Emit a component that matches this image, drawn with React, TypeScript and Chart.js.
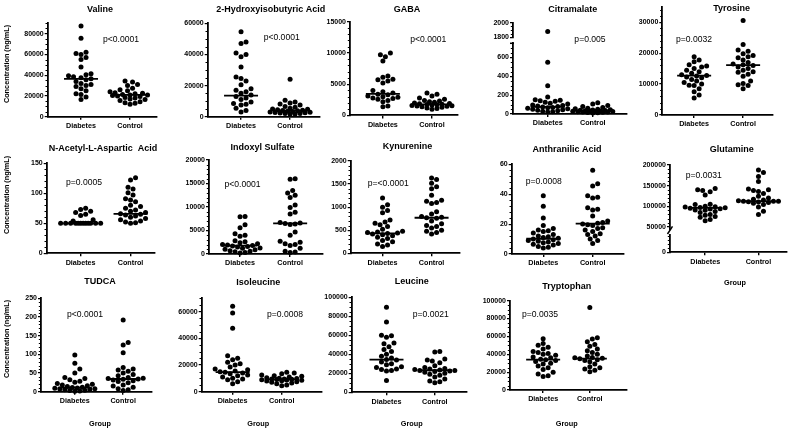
import React, { useEffect, useRef } from 'react';
import { Chart, registerables } from 'chart.js';

Chart.register(...registerables);

const FONT = '"Liberation Sans", Arial, Helvetica, sans-serif';
const categories = ['Diabetes', 'Control'];
const groupLabel = 'Group';
const yAxisLabel = 'Concentration (ng/mL)';

// ---------- data ----------
const valineDiabetes = [87500, 75500, 62000, 61000, 60000, 57000, 55000, 48000, 41500, 40500, 39500, 38500, 37500, 36500, 35500, 34000, 32000, 31000, 30000, 29000, 27000, 25000, 22000, 21500, 19000, 16500];
const valineControl = [34500, 33500, 31000, 30000, 27500, 26000, 25000, 24000, 23000, 22500, 22000, 21500, 21000, 21000, 20500, 20000, 19500, 18500, 18000, 17000, 16500, 15500, 14500, 13500, 13000, 12000];
const valineMedian = [36500, 21000];
const valineTicks = [0, 20000, 40000, 60000, 80000];

const hibaDiabetes = [54500, 48000, 47000, 41000, 40000, 38500, 32000, 25500, 24500, 23000, 20500, 18000, 17000, 16000, 15000, 14000, 13000, 12000, 11000, 9500, 8500, 8000, 7500, 5500, 4000, 3000];
const hibaControl = [24000, 10500, 9500, 8800, 8200, 7500, 6500, 6000, 5500, 5000, 4800, 4500, 4200, 4000, 3800, 3500, 3300, 3000, 2900, 2700, 2500, 2300, 2100, 2000, 1800, 1500];
const hibaMedian = [13500, 3900];
const hibaTicks = [0, 20000, 40000, 60000];

const gabaDiabetes = [10000, 9700, 9400, 8700, 6300, 6100, 5800, 5700, 5500, 5200, 4000, 3800, 3600, 3400, 3300, 3100, 3000, 2900, 2800, 2700, 2600, 2400, 2200, 1500, 1400];
const gabaControl = [3600, 3400, 3100, 2800, 2600, 2400, 2300, 2200, 2100, 2000, 1900, 1850, 1800, 1750, 1700, 1650, 1600, 1550, 1500, 1450, 1400, 1300, 1200, 1100, 1000];
const gabaMedian = [3450, 1770];
const gabaTicks = [0, 5000, 10000, 15000];

const citraDiabetes = [1880, 550, 300, 180, 150, 145, 140, 135, 125, 115, 105, 95, 90, 85, 80, 75, 70, 65, 60, 55, 50, 45, 40, 35, 30, 25, 20];
const citraControl = [120, 105, 90, 80, 70, 60, 55, 50, 45, 42, 40, 38, 35, 33, 32, 30, 28, 26, 24, 22, 20, 18, 15, 12, 10];
const citraMedian = [75, 33];
const citraTicksHigh = [1800, 2000];
const citraTicksLow = [0, 200, 400, 600];

const tyrDiabetes = [18800, 17800, 17200, 16200, 15800, 15500, 15000, 14500, 14000, 13500, 13000, 12800, 12600, 12300, 12000, 11500, 11000, 10500, 10000, 9600, 9500, 8500, 7500, 6500, 5500];
const tyrControl = [30500, 22800, 21000, 20600, 19800, 19200, 18800, 18500, 17800, 17000, 16500, 16200, 16000, 15500, 15000, 14500, 14000, 13800, 13200, 12500, 11000, 10200, 9800, 9500, 8500];
const tyrMedian = [12700, 16100];
const tyrTicks = [0, 10000, 20000, 30000];

const naaDiabetes = [75, 73, 70, 68, 65, 63, 56, 54, 50, 50, 50, 50, 50, 50, 50, 50, 50, 50, 50, 50];
const naaControl = [126, 122, 110, 107, 101, 97, 91, 89, 86, 80, 78, 75, 72, 70, 68, 66, 65, 64, 62, 60, 58, 56, 54, 52, 51, 50];
const naaMedian = [50, 65.6];
const naaTicks = [0, 50, 100, 150];

const indDiabetes = [8000, 7900, 6200, 5600, 4300, 4000, 3800, 2800, 2600, 2400, 2200, 2000, 1900, 1800, 1700, 1600, 1500, 1300, 1200, 1000, 900, 700, 600, 500, 300, 200];
const indControl = [16000, 15900, 13500, 13000, 12500, 12000, 10400, 9900, 8900, 8500, 6700, 6600, 6500, 6400, 6300, 4700, 4000, 2700, 2500, 2200, 2000, 1800, 1200, 600, 400, 300];
const indMedian = [1800, 6500];
const indTicks = [0, 5000, 10000, 15000, 20000];

const kynDiabetes = [1200, 1050, 1000, 930, 880, 720, 680, 650, 620, 580, 520, 480, 460, 450, 440, 430, 420, 400, 380, 350, 320, 280, 250, 200, 180, 150];
const kynControl = [1630, 1600, 1520, 1440, 1400, 1260, 1150, 1130, 1100, 1080, 900, 850, 800, 780, 770, 760, 700, 640, 600, 580, 550, 500, 480, 450, 420];
const kynMedian = [430, 770];
const kynTicks = [0, 500, 1000, 1500, 2000];

const anthDiabetes = [39, 32, 24, 19, 17, 16, 15.5, 15, 14, 13, 12, 11.5, 11, 10.5, 10, 9.5, 9, 8.5, 8, 7.5, 7, 6.5, 6, 5, 4.5, 4];
const anthControl = [56, 47, 45.5, 39, 38, 37.5, 31, 30, 29.5, 25.5, 22, 21, 20.5, 20, 19.5, 19, 17.5, 17, 16, 15, 13.5, 13, 12, 10, 9, 7];
const anthMedian = [10.2, 20.3];
const anthTicks = [0, 20, 40, 60];

const glnDiabetes = [143000, 140000, 138000, 135000, 127000, 105000, 104000, 100000, 99000, 98000, 97000, 96000, 95000, 94000, 93000, 91000, 90000, 87000, 85000, 80000, 78000, 75000, 73000, 68000, 65000];
const glnControl = [188000, 182000, 172000, 160000, 142000, 140000, 138000, 136000, 131000, 124000, 120000, 117000, 115000, 113000, 112000, 112000, 112000, 111000, 110000, 109000, 107000, 104000, 98000, 88000, 80000];
const glnMedian = [96000, 112000];
const glnTicksHigh = [50000, 100000, 150000, 200000];
const glnTicksLow = [0];

const tudcaDiabetes = [98, 76, 61, 50, 38, 35, 32, 28, 25, 22, 20, 18, 16, 14, 12, 11, 10, 9, 8, 7, 6, 5, 4, 3, 2, 1.5];
const tudcaControl = [192, 132, 125, 104, 65, 61, 58, 55, 50, 46, 43, 38, 36, 35, 34, 33, 31, 29, 27, 24, 18, 15, 12, 8, 5, 3];
const tudcaMedian = [11, 34];
const tudcaTicks = [0, 50, 100, 150, 200, 250];

const ileDiabetes = [64000, 59000, 47500, 27000, 25000, 24000, 22000, 21000, 20000, 18500, 17000, 16500, 15500, 15000, 14500, 14000, 13500, 12500, 12000, 11000, 10000, 9500, 9000, 7500, 6000];
const ileControl = [14500, 14000, 13500, 12500, 12000, 11500, 11000, 10500, 10000, 9800, 9600, 9500, 9400, 9200, 9000, 8800, 8500, 8200, 8000, 7500, 7000, 6500, 6000, 5000, 4500];
const ileMedian = [14700, 9300];
const ileTicks = [0, 20000, 40000, 60000];

const leuDiabetes = [89500, 74000, 60000, 59500, 58000, 52000, 51000, 48000, 45000, 43000, 40000, 38000, 36000, 34500, 34000, 32000, 30000, 29000, 27000, 26000, 24500, 24000, 23000, 22500, 12500];
const leuControl = [43000, 42500, 35000, 34000, 33000, 31000, 28000, 26000, 25000, 24500, 24000, 23500, 23000, 23000, 22500, 22000, 21000, 20000, 19000, 18000, 16000, 14000, 12000, 11000, 10000];
const leuMedian = [34400, 23200];
const leuTicks = [0, 20000, 40000, 60000, 80000, 100000];

const trpDiabetes = [57500, 52000, 50000, 48000, 46000, 43000, 42000, 41000, 40000, 39000, 37000, 36000, 34500, 34000, 33000, 32000, 30000, 29000, 27000, 25000, 23000, 20000, 18000, 16000, 15000];
const trpControl = [92500, 58500, 57000, 54000, 51000, 49000, 46000, 44000, 42000, 40000, 38000, 36500, 36000, 35500, 35000, 34000, 33000, 31500, 29000, 26000, 25000, 23500, 22000, 20500];
const trpMedian = [34000, 35200];
const trpTicks = [0, 20000, 40000, 60000, 80000, 100000];

// ---------- layout (page pixels) ----------
type Seg = { gap?: boolean; min?: number; max?: number; ticks?: number[]; minor?: number; h?: number };
type Panel = {
  title: string; pText: string; diabetes: number[]; control: number[]; median: number[];
  segs: Seg[]; box: [number, number, number, number]; xr: [number, number];
  titlePos: [number, number]; pPos: [number, number]; yTitleY?: number; groupPos?: [number, number]; brk?: 'flat' | 'slash';
};

const panels: Panel[] = [
  { title: 'Valine', pText: 'p<0.0001', diabetes: valineDiabetes, control: valineControl, median: valineMedian,
    segs: [{ min: 0, max: 90000, ticks: valineTicks, minor: 5000 }], box: [47.7, 23.3, 157, 116.7], xr: [0.32, 2.55],
    titlePos: [100, 9.5], pPos: [121, 40], yTitleY: 64 },
  { title: '2-Hydroxyisobutyric Acid', pText: 'p<0.0001', diabetes: hibaDiabetes, control: hibaControl, median: hibaMedian,
    segs: [{ min: 0, max: 60000, ticks: hibaTicks, minor: 5000 }], box: [207.7, 23.3, 320, 116.7], xr: [0.32, 2.61],
    titlePos: [270.8, 9.5], pPos: [281.7, 38] },
  { title: 'GABA', pText: 'p<0.0001', diabetes: gabaDiabetes, control: gabaControl, median: gabaMedian,
    segs: [{ min: 0, max: 15000, ticks: gabaTicks, minor: 1000 }], box: [350, 21.7, 458, 115.4], xr: [0.33, 2.53],
    titlePos: [407, 9.5], pPos: [428.3, 40] },
  { title: 'Citramalate', pText: 'p=0.005', diabetes: citraDiabetes, control: citraControl, median: citraMedian,
    segs: [{ min: 1800, max: 2000, ticks: citraTicksHigh, minor: 50, h: 14.6 }, { gap: true, h: 6 }, { min: 0, max: 750, ticks: citraTicksLow, minor: 50, h: 70.7 }],
    box: [513, 22.7, 627, 114], xr: [0.23, 2.76], titlePos: [572.7, 9.5], pPos: [590, 40], brk: 'flat' },
  { title: 'Tyrosine', pText: 'p=0.0032', diabetes: tyrDiabetes, control: tyrControl, median: tyrMedian,
    segs: [{ min: 0, max: 35000, ticks: tyrTicks, minor: 2000 }], box: [662.3, 6.7, 773, 115], xr: [0.35, 2.61],
    titlePos: [731.7, 9], pPos: [694, 40] },
  { title: 'N-Acetyl-L-Aspartic  Acid', pText: 'p=0.0005', diabetes: naaDiabetes, control: naaControl, median: naaMedian,
    segs: [{ min: 0, max: 150, ticks: naaTicks, minor: 10 }], box: [46.7, 163.3, 155, 253.3], xr: [0.32, 2.49],
    titlePos: [103, 148.3], pPos: [84, 182.7], yTitleY: 195 },
  { title: 'Indoxyl Sulfate', pText: 'p<0.0001', diabetes: indDiabetes, control: indControl, median: indMedian,
    segs: [{ min: 0, max: 20000, ticks: indTicks, minor: 1000 }], box: [209, 160, 322.7, 254], xr: [0.38, 2.65],
    titlePos: [262.5, 147.3], pPos: [242.5, 184.3] },
  { title: 'Kynurenine', pText: 'p=<0.0001', diabetes: kynDiabetes, control: kynControl, median: kynMedian,
    segs: [{ min: 0, max: 2000, ticks: kynTicks, minor: 100 }], box: [350.7, 161, 460, 253.3], xr: [0.35, 2.58],
    titlePos: [407.5, 146.7], pPos: [388.3, 183.3] },
  { title: 'Anthranilic Acid', pText: 'p=0.0008', diabetes: anthDiabetes, control: anthControl, median: anthMedian,
    segs: [{ min: 0, max: 60, ticks: anthTicks, minor: 4 }], box: [511.7, 164.3, 623.3, 254], xr: [0.36, 2.62],
    titlePos: [567, 149.3], pPos: [543.8, 181.7] },
  { title: 'Glutamine', pText: 'p=0.0031', diabetes: glnDiabetes, control: glnControl, median: glnMedian,
    segs: [{ min: 44000, max: 200000, ticks: glnTicksHigh, minor: 10000, h: 64.3 }, { gap: true, h: 5.7 }, { min: 0, max: 42000, ticks: glnTicksLow, minor: 10000, h: 17.3 }],
    box: [670, 165, 786.7, 252.3], xr: [0.34, 2.53], titlePos: [731.7, 149.3], pPos: [703.8, 175.7], groupPos: [735, 282.7], brk: 'slash' },
  { title: 'TUDCA', pText: 'p<0.0001', diabetes: tudcaDiabetes, control: tudcaControl, median: tudcaMedian,
    segs: [{ min: 0, max: 250, ticks: tudcaTicks, minor: 10 }], box: [41, 298.3, 151.7, 391.7], xr: [0.30, 2.59],
    titlePos: [100, 282], pPos: [85, 315], yTitleY: 339, groupPos: [100, 424] },
  { title: 'Isoleucine', pText: 'p=0.0008', diabetes: ileDiabetes, control: ileControl, median: ileMedian,
    segs: [{ min: 0, max: 70000, ticks: ileTicks, minor: 5000 }], box: [201.7, 298.3, 322, 391.7], xr: [0.37, 2.82],
    titlePos: [258.3, 282.7], pPos: [285, 315], groupPos: [258.3, 424] },
  { title: 'Leucine', pText: 'p=0.0021', diabetes: leuDiabetes, control: leuControl, median: leuMedian,
    segs: [{ min: 0, max: 100000, ticks: leuTicks, minor: 5000 }], box: [351.7, 297.3, 466.7, 392.3], xr: [0.28, 2.66],
    titlePos: [411.7, 282], pPos: [430.8, 315], groupPos: [411.7, 424] },
  { title: 'Tryptophan', pText: 'p=0.0035', diabetes: trpDiabetes, control: trpControl, median: trpMedian,
    segs: [{ min: 0, max: 100000, ticks: trpTicks, minor: 5000 }], box: [510, 300.7, 626.7, 390], xr: [0.29, 2.79],
    titlePos: [566.7, 287], pPos: [540, 315], groupPos: [566.7, 424] },
];

const W = 795, H = 430;
const Y_W = 40, X_H = 20;
const POINT_R = 2.5, DIAM = 5, SWARM_CAP = 21, MEDIAN_HALF_PX = 17;

function segHeights(p: Panel): number[] {
  if (p.segs.length === 1) return [p.box[3] - p.box[1]];
  return p.segs.map((s) => s.h as number);
}

// returns [segIndex, pixelY]
function locate(p: Panel, v: number): [number, number] {
  const hs = segHeights(p);
  let bottom = p.box[3];
  for (let i = p.segs.length - 1; i >= 0; i--) {
    const s = p.segs[i];
    const top = bottom - hs[i];
    if (!s.gap && v >= (s.min as number) && v <= (s.max as number)) {
      return [i, bottom - ((v - (s.min as number)) / ((s.max as number) - (s.min as number))) * hs[i]];
    }
    bottom = top;
  }
  return [p.segs.length - 1, p.box[3]];
}

// capped beeswarm: pixel offsets, overlapping when space runs out
function swarm(ys: number[], d: number, cap: number): number[] {
  const idx = ys.map((_, i) => i).sort((a, b) => ys[b] - ys[a]);
  const placed: { x: number; y: number }[] = [];
  const out = new Array(ys.length).fill(0);
  const step = d / 2;
  for (const i of idx) {
    const y = ys[i];
    let chosen: number | null = null;
    let best = 0, bestScore = -1;
    for (let k = 0; k < 200; k++) {
      const m = Math.ceil(k / 2) * (k % 2 === 1 ? 1 : -1);
      const x = m * step;
      if (Math.abs(x) > cap) break;
      let minD = Infinity;
      for (const q of placed) minD = Math.min(minD, Math.hypot(q.x - x, q.y - y));
      if (minD >= d * 0.98) { chosen = x; break; }
      if (minD > bestScore + 0.3) { bestScore = minD; best = x; }
    }
    const x = chosen === null ? best : chosen;
    out[i] = x;
    placed.push({ x, y });
  }
  return out;
}

function makeOverlay(p: Panel) {
  return {
    id: 'overlay',
    afterDraw(chart: any) {
      const ctx = chart.ctx as CanvasRenderingContext2D;
      ctx.save();
      ctx.fillStyle = '#000';
      ctx.strokeStyle = '#000';
      ctx.lineWidth = 1;
      p.segs.forEach((s, i) => {
        if (s.gap) return;
        const sc = chart.scales['y' + i];
        const x = sc.right;
        const k0 = Math.ceil((s.min as number) / (s.minor as number));
        const k1 = Math.floor((s.max as number) / (s.minor as number));
        for (let k = k0; k <= k1; k++) {
          const v = k * (s.minor as number);
          if ((s.ticks as number[]).some((t) => Math.abs(t - v) < 1e-6)) continue;
          const y = Math.round(sc.getPixelForValue(v)) + 0.5;
          ctx.beginPath();
          ctx.moveTo(x - 2.2, y);
          ctx.lineTo(x, y);
          ctx.stroke();
        }
      });
      p.segs.forEach((s, i) => {
        if (!s.gap) return;
        const sc = chart.scales['y' + i];
        const x = sc.right;
        ctx.lineWidth = 1.5;
        ctx.beginPath();
        if (p.brk === 'flat') {
          ctx.moveTo(x - 3, sc.bottom);
          ctx.lineTo(x + 1, sc.bottom);
        } else {
          ctx.moveTo(x - 2.5, sc.bottom - 1);
          ctx.lineTo(x + 2.5, sc.top - 3);
        }
        ctx.stroke();
      });
      ctx.textAlign = 'center';
      ctx.textBaseline = 'middle';
      ctx.font = `bold 9px ${FONT}`;
      ctx.fillText(p.title, p.titlePos[0], p.titlePos[1]);
      ctx.font = `8.6px ${FONT}`;
      ctx.fillText(p.pText, p.pPos[0], p.pPos[1]);
      ctx.font = `bold 7.3px ${FONT}`;
      if (p.yTitleY !== undefined) {
        ctx.save();
        ctx.translate(6.7, p.yTitleY);
        ctx.rotate(-Math.PI / 2);
        ctx.fillText(yAxisLabel, 0, 0);
        ctx.restore();
      }
      if (p.groupPos) ctx.fillText(groupLabel, p.groupPos[0], p.groupPos[1]);
      ctx.restore();
    },
  };
}

function buildConfig(p: Panel): any {
  const [L, T, R, B] = p.box;
  const u = (R - L) / (p.xr[1] - p.xr[0]);
  const hs = segHeights(p);
  const datasets: any[] = [];
  [p.diabetes, p.control].forEach((vals, g) => {
    const loc = vals.map((v) => locate(p, v));
    const offs = swarm(loc.map((l) => l[1]), DIAM, SWARM_CAP);
    const bySeg: Record<number, any[]> = {};
    vals.forEach((v, i) => {
      const si = loc[i][0];
      (bySeg[si] = bySeg[si] || []).push({ x: g + 1 + offs[i] / u, y: v });
    });
    Object.keys(bySeg).forEach((k) => {
      datasets.push({
        data: bySeg[+k], yAxisID: 'y' + k, pointRadius: POINT_R, pointHoverRadius: POINT_R,
        backgroundColor: '#000', borderWidth: 0, showLine: false, clip: false,
      });
    });
    const m = p.median[g];
    const mi = locate(p, m)[0];
    const hw = MEDIAN_HALF_PX / u;
    datasets.push({
      data: [{ x: g + 1 - hw, y: m }, { x: g + 1 + hw, y: m }], yAxisID: 'y' + mi,
      showLine: true, borderColor: '#000', borderWidth: 1.8, pointRadius: 0, clip: false,
    });
  });

  const scales: any = {
    x: {
      type: 'linear', position: 'bottom', min: p.xr[0], max: p.xr[1],
      afterBuildTicks: (s: any) => { s.ticks = categories.map((_, i) => ({ value: i + 1 })); },
      afterFit: (s: any) => { s.height = X_H; },
      ticks: {
        callback: (v: any) => categories[Math.round(v) - 1], font: { family: FONT, size: 7.2, weight: 'bold' },
        color: '#000', padding: 2, maxRotation: 0, autoSkip: false,
      },
      grid: { drawOnChartArea: false, drawTicks: true, tickLength: 3, color: '#000', lineWidth: 1.4 },
      border: { display: true, color: '#000', width: 1.8 },
    },
  };
  const n = p.segs.length;
  p.segs.forEach((s, i) => {
    const common: any = {
      type: 'linear', position: 'left',
      afterFit: (sc: any) => { sc.width = Y_W; },
    };
    if (n > 1) {
      common.stack = 'ys';
      common.stackWeight = hs[i];
      common.weight = n - 1 - i;
    }
    if (s.gap) {
      scales['y' + i] = {
        ...common, min: 0, max: 1,
        ticks: { display: false }, grid: { display: false }, border: { display: false },
      };
    } else {
      scales['y' + i] = {
        ...common, min: s.min, max: s.max,
        afterBuildTicks: (sc: any) => { sc.ticks = (s.ticks as number[]).map((v) => ({ value: v })); },
        ticks: {
          callback: (v: any) => String(v), font: { family: FONT, size: 7, weight: 'bold' },
          color: '#000', padding: 1, autoSkip: false,
        },
        grid: { drawOnChartArea: false, drawTicks: true, tickLength: 3, color: '#000', lineWidth: 1.2 },
        border: { display: true, color: '#000', width: 1.8 },
      };
    }
  });

  return {
    type: 'scatter',
    data: { datasets },
    options: {
      responsive: false, animation: false, devicePixelRatio: 1, events: [],
      layout: { padding: { left: L - Y_W, top: T, right: W - R, bottom: H - B - X_H } },
      plugins: { legend: { display: false }, tooltip: { enabled: false }, title: { display: false } },
      scales,
    },
    plugins: [makeOverlay(p)],
  };
}

function PanelChart({ p }: { p: Panel }) {
  const ref = useRef<HTMLCanvasElement | null>(null);
  useEffect(() => {
    if (!ref.current) return;
    const chart = new Chart(ref.current, buildConfig(p));
    return () => chart.destroy();
  }, [p]);
  return (
    <canvas ref={ref} width={W} height={H}
      style={{ position: 'absolute', left: 0, top: 0, width: W, height: H }} />
  );
}

export default function App() {
  return (
    <div style={{ position: 'absolute', left: 0, top: 0, width: W, height: H, background: '#fff', overflow: 'hidden' }}>
      {panels.map((p, i) => <PanelChart key={i} p={p} />)}
    </div>
  );
}
